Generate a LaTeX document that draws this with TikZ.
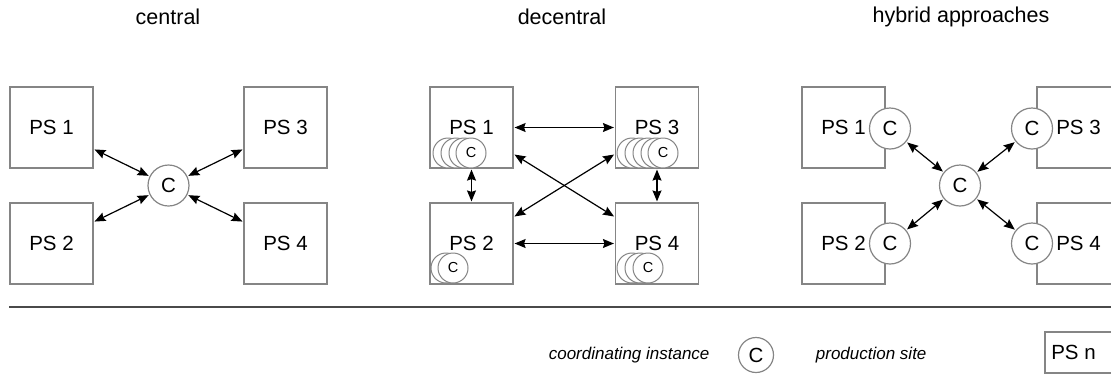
\documentclass[tikz,border=0pt]{standalone}
\usepackage{fontspec}
\setmainfont{Liberation Sans}
\usetikzlibrary{arrows.meta}
\definecolor{edgegray}{HTML}{858585}
\definecolor{rulegray}{HTML}{4A4A4A}

\tikzset{
  site/.style={draw=edgegray, line width=1.2pt, fill=white, minimum width=83pt,
    minimum height=81pt, inner sep=0pt, font=\fontsize{20.5}{24}\selectfont},
  coord/.style={circle, draw=edgegray, line width=1.2pt, fill=white,
    minimum size=41pt, inner sep=0pt, font=\fontsize{20.5}{24}\selectfont},
  minicoord/.style={circle, draw=edgegray, line width=1pt, fill=white,
    minimum size=30pt, inner sep=0pt, font=\fontsize{14.5}{17}\selectfont},
  biarrow/.style={line width=1.2pt,
    {Stealth[length=11pt,width=9pt,inset=1.5pt]}-{Stealth[length=11pt,width=9pt,inset=1.5pt]},
    shorten <=1pt, shorten >=1pt},
  heading/.style={font=\fontsize{21.5}{25}\selectfont},
  legendtext/.style={font=\itshape\fontsize{17}{20}\selectfont},
}

\begin{document}
\begin{tikzpicture}[x=1pt,y=-1pt]
\useasboundingbox (0,0) rectangle (1111,376);
\clip (0,0) rectangle (1111,376);

% headings
\node[heading] (tcentral) at (168,17) {central};
\node[heading] (tdecentral) at (562,17) {decentral};
\node[heading] (thybrid) at (961,17) {hybrid approaches};

% ---- central coordination ----
\node[site] (a1) at (51.5,127.5) {PS 1};
\node[site] (a2) at (51.5,243.5) {PS 2};
\node[site] (a3) at (285.5,127.5) {PS 3};
\node[site] (a4) at (285.5,243.5) {PS 4};
\node[coord] (ac) at (168.5,185.5) {C};
\draw[biarrow] ([yshift=-21.5pt]a1.east) -- (ac);
\draw[biarrow] ([yshift=21.5pt]a2.east) -- (ac);
\draw[biarrow] ([yshift=-21.5pt]a3.west) -- (ac);
\draw[biarrow] ([yshift=21.5pt]a4.west) -- (ac);

% ---- decentral coordination ----
\node[site] (b1) at (471.5,127.5) {PS 1};
\node[site] (b2) at (471.5,243.5) {PS 2};
\node[site] (b3) at (657,127.5) {PS 3};
\node[site] (b4) at (657,243.5) {PS 4};
% stacked coordinating instances inside each site
\foreach \x in {448,456,464} \node[minicoord] (b1s\x) at (\x,153) {};
\node[minicoord] (b1c) at (471,153) {C};
\foreach \x in {446} \node[minicoord] (b2s\x) at (\x,268) {};
\node[minicoord] (b2c) at (453,268) {C};
\foreach \x in {632,640,648,656} \node[minicoord] (b3s\x) at (\x,153) {};
\node[minicoord] (b3c) at (663,153) {C};
\foreach \x in {632,640} \node[minicoord] (b4s\x) at (\x,268) {};
\node[minicoord] (b4c) at (648,268) {C};
\draw[biarrow] (b1.east) -- (b3.west);
\draw[biarrow] (b2.east) -- (b4.west);
\draw[biarrow] (b1.south) -- (b2.north);
\draw[biarrow] (b3.south) -- (b4.north);
\draw[biarrow] ([yshift=-26.5pt]b1.east) -- ([yshift=26.5pt]b4.west);
\draw[biarrow] ([yshift=-26.5pt]b3.west) -- ([yshift=26.5pt]b2.east);

% ---- hybrid approaches ----
\node[site] (h1) at (843.5,127.5) {PS 1};
\node[site] (h2) at (843.5,243.5) {PS 2};
\node[site] (h3) at (1078.5,127.5) {PS 3};
\node[site] (h4) at (1078.5,243.5) {PS 4};
\node[coord] (h1c) at (890,128.5) {C};
\node[coord] (h2c) at (890,243.5) {C};
\node[coord] (h3c) at (1032,128.5) {C};
\node[coord] (h4c) at (1032,243.5) {C};
\node[coord] (hc) at (960,185.5) {C};
\draw[biarrow] (h1c) -- (hc);
\draw[biarrow] (h2c) -- (hc);
\draw[biarrow] (h3c) -- (hc);
\draw[biarrow] (h4c) -- (hc);

% ---- separator and legend ----
\coordinate (sepl) at (9,307);
\coordinate (sepr) at (1111,307);
\draw[rulegray, line width=1.4pt] (sepl) -- (sepr);

\node[legendtext, anchor=east] (lcoord) at (713,355) {coordinating instance};
\node[circle, draw=edgegray, line width=1.2pt, minimum width=33pt, minimum height=35pt,
      inner sep=0pt, font=\fontsize{20.5}{24}\selectfont] (lc) at (756,355) {C};
\node[legendtext, anchor=east] (lsite) at (930,355) {production site};
\node[draw=edgegray, line width=1.2pt, minimum width=86pt, minimum height=41pt,
      inner sep=0pt] (lbox) at (1088,352.5) {};
\node[font=\fontsize{20.5}{24}\selectfont] (lboxtext) at (1073.5,352.5) {PS n};
\end{tikzpicture}
\end{document}
